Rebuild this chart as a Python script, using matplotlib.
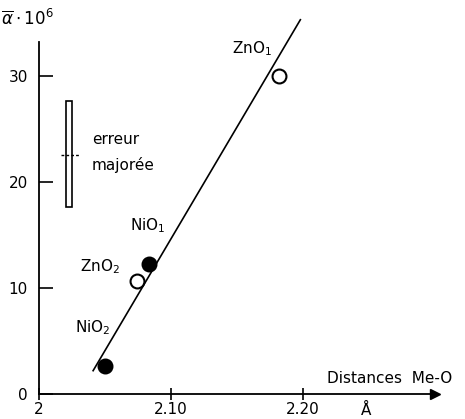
import matplotlib.pyplot as plt

# measured points: mean Me-O distance (Å) vs alpha * 10^6
names = ["ZnO$_1$", "NiO$_1$", "ZnO$_2$", "NiO$_2$"]
dist = [2.182, 2.083, 2.074, 2.050]
alpha = [30.0, 12.3, 10.7, 2.6]
filled = [False, True, False, True]

# fitted straight line (end points)
fit_x = [2.041, 2.198]
fit_y = [2.2, 35.3]

# "erreur majorée" bar
err_x = 2.0227
err_lo, err_mid, err_hi = 17.6, 22.5, 27.6

xticks = [2.0, 2.1, 2.2]
xticklabels = ["2", "2.10", "2.20"]
yticks = [0, 10, 20, 30]

plt.rcParams["font.family"] = "DejaVu Sans"

fig = plt.figure(figsize=(4.65, 4.19), dpi=100)
ax = fig.add_axes([39 / 465, 25 / 419, 396 / 465, 352 / 419])
ax.set_xlim(2.0, 2.30)
ax.set_ylim(0, 33.2)

for s in ["top", "right"]:
    ax.spines[s].set_visible(False)
for s in ["left", "bottom"]:
    ax.spines[s].set_linewidth(1.3)

# arrow heads on the axes
ax.plot(1, 0, ">k", ms=7, transform=ax.get_yaxis_transform(), clip_on=False)
ax.plot(0, 1, "^k", ms=7, transform=ax.get_xaxis_transform(), clip_on=False)

ax.set_xticks(xticks)
ax.set_xticklabels(xticklabels)
ax.set_yticks(yticks)
ax.tick_params(axis="y", direction="in", length=10, width=1.2, labelsize=11, pad=8)
ax.tick_params(axis="x", direction="inout", length=8, width=1.2, labelsize=11, pad=2)

# fitted line
ax.plot(fit_x, fit_y, color="black", lw=1.2, clip_on=False)

# points
for x, y, f in zip(dist, alpha, filled):
    ax.plot(x, y, "o", ms=10, mec="black", mew=1.5,
            mfc="black" if f else "white", zorder=3, clip_on=False)

# labels of the points
label_pos = [(2.146, 32.6), (2.069, 15.9), (2.031, 12.0), (2.027, 6.3)]
for n, (lx, ly) in zip(names, label_pos):
    ax.text(lx, ly, n, fontsize=11, ha="left", va="center")

# error bar drawn as a thin box with a dashed mid mark
ax.bar(err_x, err_hi - err_lo, bottom=err_lo, width=0.004,
       facecolor="white", edgecolor="black", lw=1.2, zorder=2)
ax.plot([err_x - 0.006, err_x + 0.008], [err_mid, err_mid],
        color="black", lw=1.0, ls=(0, (2, 1.5)), zorder=3)
ax.text(2.040, 24.0, "erreur", fontsize=11, va="center")
ax.text(2.040, 21.6, "majorée", fontsize=11, va="center")

# axis titles
ax.text(2.218, 1.45, "Distances  Me-O", fontsize=11, va="center")
ax.text(2.248, -1.6, "Å", fontsize=11, ha="center", va="center", clip_on=False)
ax.text(-0.095, 1.065, r"$\overline{\alpha}\cdot10^6$", fontsize=12,
        transform=ax.transAxes, va="center")

fig.savefig("out.png", dpi=100)
